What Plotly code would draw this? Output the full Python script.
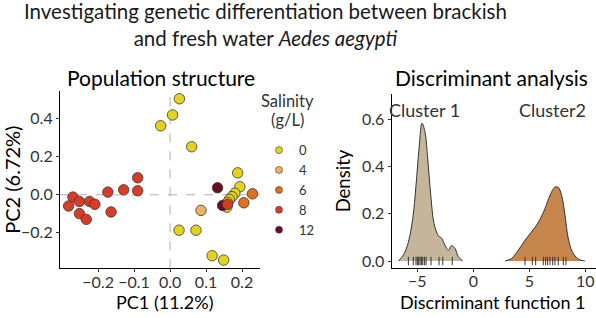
import plotly.graph_objects as go

FONT = "Lato"

# ---------------- PCA data ----------------
salinity_levels = ["0", "4", "6", "8", "12"]
salinity_colors = ["#E4D21F", "#EFB060", "#E2701A", "#D83C26", "#6B0E1F"]

pc1_s0 = [0.026, 0.007, -0.026, 0.060, 0.188, 0.194, 0.180, 0.172, 0.165, 0.160, 0.158, 0.025, 0.072, 0.117, 0.149]
pc2_s0 = [0.504, 0.419, 0.362, 0.252, 0.115, 0.042, 0.008, -0.010, -0.025, -0.040, -0.065, -0.186, -0.186, -0.320, -0.343]
pc1_s4 = [0.086]
pc2_s4 = [-0.082]
pc1_s6 = [0.229, 0.205]
pc2_s6 = [0.005, -0.042]
pc1_s8 = [-0.282, -0.270, -0.252, -0.252, -0.233, -0.224, -0.209, -0.173, -0.164, -0.129, -0.090, -0.090, 0.160]
pc2_s8 = [-0.059, -0.012, -0.035, -0.099, -0.129, -0.035, -0.050, 0.014, -0.090, 0.026, 0.089, 0.021, -0.050]
pc1_s12 = [0.132, 0.146]
pc2_s12 = [0.037, -0.056]

pc1_ticks = [-0.2, -0.1, 0.0, 0.1, 0.2]
pc2_ticks = [-0.2, 0.0, 0.2, 0.4]

# ---------------- DAPC data ----------------
cluster_names = ["Cluster 1", "Cluster2"]
cluster_colors = ["#C4B59B", "#C8864F"]

dens1_x = [-6.69, -6.25, -5.80, -5.41, -5.12, -4.85, -4.58, -4.31, -4.07, -3.80, -3.51, -3.12, -2.82, -2.53, -2.23, -1.93, -1.63, -1.34, -0.95]
dens1_y = [0.0, 0.025, 0.080, 0.180, 0.320, 0.475, 0.584, 0.545, 0.432, 0.278, 0.159, 0.107, 0.096, 0.067, 0.046, 0.065, 0.053, 0.018, 0.0]
dens2_x = [2.83, 3.43, 4.02, 4.62, 5.21, 5.80, 6.40, 6.85, 7.29, 7.59, 7.89, 8.19, 8.48, 8.84, 9.38, 9.97]
dens2_y = [0.0, 0.011, 0.046, 0.088, 0.124, 0.163, 0.222, 0.278, 0.313, 0.312, 0.278, 0.194, 0.096, 0.040, 0.008, 0.0]
rug1 = [-5.80, -5.36, -5.12, -5.00, -4.88, -4.76, -4.64, -4.52, -4.37, -4.22, -3.78, -3.06, -2.73, -1.88]
rug2 = [4.62, 5.27, 5.57, 6.25, 6.46, 6.64, 6.85, 7.09, 7.29, 7.59, 8.04, 8.28]

df_ticks = [-5, 0, 5, 10]
dens_ticks = [0.0, 0.2, 0.4, 0.6]

W, H = 596, 318
fig = go.Figure()

pc_sets = [(pc1_s0, pc2_s0), (pc1_s4, pc2_s4), (pc1_s6, pc2_s6), (pc1_s8, pc2_s8), (pc1_s12, pc2_s12)]
draw_order = [0, 1, 2, 4, 3]
for i in draw_order:
    xs, ys = pc_sets[i]
    fig.add_trace(go.Scatter(
        x=xs, y=ys, mode="markers", xaxis="x", yaxis="y", showlegend=False,
        marker=dict(size=10.5, color=salinity_colors[i], line=dict(color="#3a3a3a", width=0.8)),
        hoverinfo="skip"))
# legend entries
for lvl, col in zip(salinity_levels, salinity_colors):
    fig.add_trace(go.Scatter(
        x=[None], y=[None], mode="markers", name=lvl, xaxis="x", yaxis="y",
        marker=dict(size=7, color=col, line=dict(color="#3a3a3a", width=0.6))))

# density curves
for dx, dy, col in [(dens1_x, dens1_y, cluster_colors[0]), (dens2_x, dens2_y, cluster_colors[1])]:
    fig.add_trace(go.Scatter(
        x=dx, y=dy, mode="lines", fill="tozeroy", fillcolor=col, xaxis="x2", yaxis="y2",
        line=dict(color="#333333", width=1, shape="spline", smoothing=1.0), showlegend=False,
        hoverinfo="skip"))
for r in [rug1, rug2]:
    fig.add_trace(go.Scatter(
        x=r, y=[0.0] * len(r), mode="markers", xaxis="x2", yaxis="y2", showlegend=False,
        marker=dict(symbol="line-ns-open", size=6, color="#333333", line=dict(color="#333333", width=1)),
        hoverinfo="skip"))

axis_common = dict(
    showline=True, linecolor="#000000", linewidth=1.2, ticks="outside", ticklen=3,
    tickcolor="#333333", tickwidth=1, showgrid=False, zeroline=False,
    tickfont=dict(family=FONT, size=16, color="#333333"),
)
TITLE_FONT = dict(family=FONT, size=18.5, color="#000000")


def ann(text, x, y, size, color="#000000", xref="paper", yref="paper"):
    if xref == "paper":
        x = x / W
    if yref == "paper":
        y = 1 - y / H
    return dict(text=text, x=x, y=y, xref=xref, yref=yref, xanchor="center", yanchor="middle",
                showarrow=False, font=dict(family=FONT, size=size, color=color))


fig.update_layout(
    width=W, height=H, margin=dict(l=0, r=0, t=0, b=0),
    paper_bgcolor="white", plot_bgcolor="white",
    font=dict(family=FONT, color="#000000"),
    xaxis=dict(domain=[60 / W, 260 / W], range=[-0.306, 0.25], tickvals=pc1_ticks, tickformat=".1f",
               anchor="y", ticklabelstandoff=-4, **axis_common),
    yaxis=dict(domain=[1 - 270 / H, 1 - 91.7 / H], range=[-0.386, 0.544], tickvals=pc2_ticks, tickformat=".1f",
               title=dict(text="PC2 (6.72%)", font=dict(family=FONT, size=20, color="#000"), standoff=3),
               anchor="x", **axis_common),
    xaxis2=dict(domain=[391.7 / W, 1.0], range=[-7.29, 10.96], tickvals=df_ticks,
                anchor="y2", ticklabelstandoff=-4, **axis_common),
    yaxis2=dict(domain=[1 - 269.3 / H, 1 - 95 / H], range=[-0.028, 0.706], tickvals=dens_ticks, tickformat=".1f",
                title=dict(text="Density", font=TITLE_FONT, standoff=6),
                anchor="x2", **axis_common),
    legend=dict(x=259 / W, y=1 - 136 / H, xanchor="left", yanchor="top",
                font=dict(family=FONT, size=13, color="#333333"),
                bgcolor="rgba(0,0,0,0)", itemwidth=30, tracegroupgap=0),
    shapes=[
        dict(type="line", xref="x", yref="y domain", x0=0, x1=0, y0=0, y1=1,
             line=dict(color="#b0b0b0", width=1, dash="dash"), layer="below"),
        dict(type="line", xref="x domain", yref="y", x0=0, x1=1, y0=0, y1=0,
             line=dict(color="#b0b0b0", width=1, dash="dash"), layer="below"),
    ],
    annotations=[
        ann("Investigating genetic differentiation between brackish<br>and fresh water <i>Aedes aegypti</i>",
            265, 24.5, 20.5, "#1a1a1a"),
        ann("Population structure", 161, 78, 21),
        ann("Discriminant analysis", 491.7, 78, 21),
        ann("PC1 (11.2%)", 165, 303.5, 18),
        ann("Discriminant function 1", 492.5, 303.5, 18),
        ann("Salinity", 287, 102, 16.5, "#333333"),
        ann("(g/L)", 287, 121, 16.5, "#333333"),
        ann(cluster_names[0], -4.4, 0.64, 18, "#333333", "x2", "y2"),
        ann(cluster_names[1], 7.1, 0.64, 18, "#333333", "x2", "y2"),
    ],
)

fig.write_html("out.html")
